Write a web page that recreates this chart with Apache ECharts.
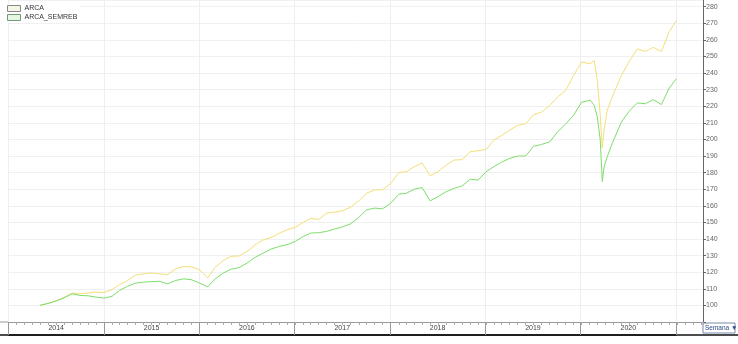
<!DOCTYPE html>
<html><head><meta charset="utf-8">
<script src="https://cdn.jsdelivr.net/npm/echarts@6/dist/echarts.min.js"></script>
<style>html,body{margin:0;padding:0;background:#fff}#c{width:738px;height:344px}</style>
</head><body><div id="c"></div>
<script>
const dates = ['2014-05-01','2014-06-01','2014-07-01','2014-08-01','2014-09-01','2014-10-01','2014-11-01','2014-12-01',
'2015-01-01','2015-02-01','2015-03-01','2015-04-01','2015-05-01','2015-06-01','2015-07-01','2015-08-01','2015-09-01','2015-10-01','2015-11-01','2015-12-01',
'2016-01-01','2016-02-01','2016-03-01','2016-04-01','2016-05-01','2016-06-01','2016-07-01','2016-08-01','2016-09-01','2016-10-01','2016-11-01','2016-12-01',
'2017-01-01','2017-02-01','2017-03-01','2017-04-01','2017-05-01','2017-06-01','2017-07-01','2017-08-01','2017-09-01','2017-10-01','2017-11-01','2017-12-01',
'2018-01-01','2018-02-01','2018-03-01','2018-04-01','2018-05-01','2018-06-01','2018-07-01','2018-08-01','2018-09-01','2018-10-01','2018-11-01','2018-12-01',
'2019-01-01','2019-02-01','2019-03-01','2019-04-01','2019-05-01','2019-06-01','2019-07-01','2019-08-01','2019-09-01','2019-10-01','2019-11-01','2019-12-01',
'2020-01-01','2020-02-03','2020-02-18','2020-03-01','2020-03-12','2020-03-20','2020-03-27','2020-04-08','2020-04-27',
'2020-06-01','2020-07-01','2020-08-01','2020-09-01','2020-10-01','2020-11-01','2020-12-01','2020-12-28'];
const arca = [100,101.2,102.8,104.8,107.5,107,107.5,108,
107.8,109.5,112.5,115,118.3,119,119.5,119,118.5,122,123.4,123.2,
121.6,116.5,123,127,129.6,129.8,132.5,136.5,139.5,141,143.5,145.6,
147,150,152.5,151.8,155.6,156.2,157,159.2,163,167.6,169.6,169.6,
173.5,180,180.5,183.5,185.8,178,180.5,184.5,187.6,187.8,192.6,193.2,
194,199.8,202.3,205.6,208.4,209.5,214.8,216.5,220.5,225.5,229.5,238.5,
246.6,245.6,247.6,235.6,215,195,205.6,217.6,225.6,
238.5,247,254.5,253,255.5,253,265,271.6];
const arcaSemreb = [100,101.2,102.6,104.5,107,106,105.8,105,
104.4,105.5,109,111.5,113.4,114,114.3,114.5,113,115,116,115.5,
113.5,111.2,116,119.5,121.8,122.8,125.5,129,131.5,134,135.5,136.6,
138.5,141.5,143.6,143.8,144.6,146,147.3,149.2,153,157.6,158.6,158.2,
161.5,167,167.5,170,171,163,165.5,168.5,170.6,172,176,175.5,
180.5,183.8,186.3,188.6,190,190,195.8,197,198.5,204.5,209.3,214.5,
222.5,223.6,220.6,213.6,200,174.6,183.6,189.6,197.6,
210.5,217,222,221.5,224,221,231,236.6];
const years = ['2014','2015','2016','2017','2018','2019','2020'];
const seriesNames = ['ARCA','ARCA_SEMREB'];

const pair = arr => dates.map((d,i)=>[d,arr[i]]);
const chart = echarts.init(document.getElementById('c'));
chart.setOption({
  animation:false,
  backgroundColor:'#fff',
  textStyle:{fontFamily:'Liberation Sans, Arial, sans-serif'},
  legend:{
    orient:'vertical', left:6, top:4, itemWidth:13, itemHeight:6, itemGap:2,
    backgroundColor:'rgba(255,255,255,0.9)', padding:[1,3,1,1],
    textStyle:{fontSize:7,color:'#333',padding:[0,0,0,-1]},
    data:[
      {name:seriesNames[0], icon:'rect', itemStyle:{color:'#f7f5e6',borderColor:'#888',borderWidth:1}},
      {name:seriesNames[1], icon:'rect', itemStyle:{color:'#e8f6e4',borderColor:'#6f9a78',borderWidth:1}}
    ]
  },
  grid:[
    {left:8.5, right:35, top:0, bottom:22},
    {left:8.5, right:62, top:0, bottom:9}
  ],
  xAxis:[
    {type:'time', gridIndex:0, min:'2014-01-01', max:'2021-04-09',
     splitNumber:88, minInterval:28*86400000, maxInterval:31*86400000,
     axisLine:{lineStyle:{color:'#999',width:1}},
     axisTick:{show:true,length:3,lineStyle:{color:'#aaa'}},
     axisLabel:{show:false}, splitLine:{show:false}},
    {type:'category', gridIndex:1, data:years, boundaryGap:true,
     axisLine:{lineStyle:{color:'#111',width:1.5}},
     axisTick:{show:true,inside:true,length:13,lineStyle:{color:'#999'}},
     axisLabel:{inside:true,fontSize:7,color:'#444',margin:3},
     splitLine:{show:true,lineStyle:{color:'#eeeeee'}}}
  ],
  yAxis:[
    {type:'value', gridIndex:0, position:'right', min:90, max:284, interval:10,
     axisLine:{show:true,lineStyle:{color:'#666'}},
     axisTick:{show:true,length:3,lineStyle:{color:'#666'}},
     axisLabel:{fontSize:7,color:'#666',margin:3,formatter:v=>v<100?'':String(v)},
     splitLine:{show:true,lineStyle:{color:'#f0f0f0'}}},
    {type:'value', gridIndex:1, show:false}
  ],
  series:[
    {name:seriesNames[0], type:'line', xAxisIndex:0, yAxisIndex:0, data:pair(arca), showSymbol:false, symbol:'none',
     lineStyle:{width:1,color:'#f3df78'}, itemStyle:{color:'#f3df78'}, z:3},
    {name:seriesNames[1], type:'line', xAxisIndex:0, yAxisIndex:0, data:pair(arcaSemreb), showSymbol:false, symbol:'none',
     lineStyle:{width:1,color:'#7edd6c'}, itemStyle:{color:'#7edd6c'}, z:4}
  ],
  graphic:[
    {type:'line', shape:{x1:0,y1:335,x2:738,y2:335}, style:{stroke:'#111',lineWidth:1.5}},
    {type:'line', shape:{x1:0,y1:322,x2:8.5,y2:322}, style:{stroke:'#999',lineWidth:1}},
    {type:'text', left:68, top:9, style:{text:'9',fontSize:5,fill:'#555'}},
    {type:'rect', shape:{x:703,y:323,width:32,height:10}, style:{fill:'#fff',stroke:'#7a8aa8',lineWidth:1}},
    {type:'text', x:705, y:324.5, style:{text:'Semana \u25BC',fontSize:6.5,fill:'#2a4a8a',fontFamily:'Liberation Sans, Arial'}}
  ]
});
</script>
</body></html>
